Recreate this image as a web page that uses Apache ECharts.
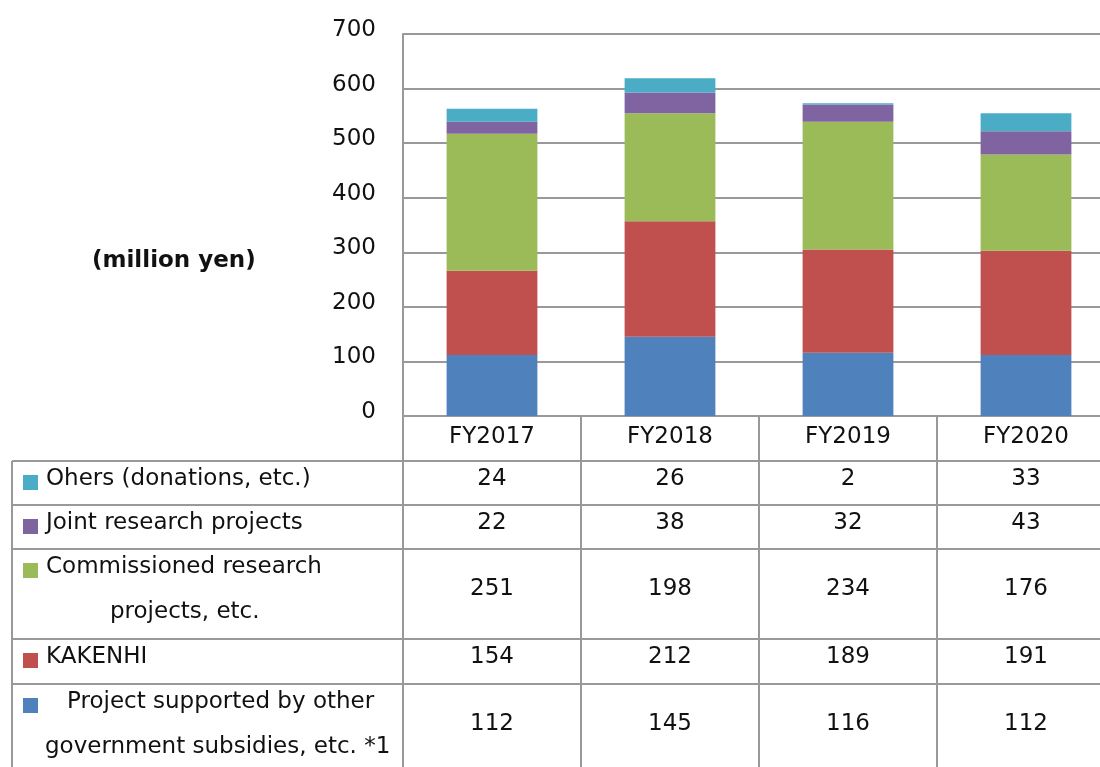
<!DOCTYPE html>
<html>
<head>
<meta charset="utf-8">
<script src="https://cdn.jsdelivr.net/npm/echarts@6/dist/echarts.min.js"></script>
<style>
  html, body { margin: 0; padding: 0; background: #fff; }
  #chart { width: 1100px; height: 767px; }
</style>
</head>
<body>
<div id="chart"></div>
<script>
// Research funding by source, in million yen
const categories = ['FY2017', 'FY2018', 'FY2019', 'FY2020'];
const subsidies = [112, 145, 116, 112];
const kakenhi = [154, 212, 189, 191];
const commissioned = [251, 198, 234, 176];
const joint = [22, 38, 32, 43];
const others = [24, 26, 2, 33];

const yMin = 0;
const yMax = 700;
const yStep = 100;

// Table rows, top to bottom (label lines per row)
const tableRows = [
  { lines: ['Ohers (donations, etc.)'], values: others },
  { lines: ['Joint research projects'], values: joint },
  { lines: ['Commissioned research', 'projects, etc.'], values: commissioned },
  { lines: ['KAKENHI'], values: kakenhi },
  { lines: ['Project supported by other', 'government subsidies, etc. *1'], values: subsidies }
];

// ---- styling / layout ----
const FONT = 'DejaVu Sans';
const FS = 23;
const TEXT = '#111';
const LINE = '#999';
const COLORS = {
  subsidies: '#4F81BD',
  kakenhi: '#C0504D',
  commissioned: '#9BBB59',
  joint: '#8064A2',
  others: '#4BACC6'
};
const rowColors = [COLORS.others, COLORS.joint, COLORS.commissioned, COLORS.kakenhi, COLORS.subsidies];
// the last column runs a little past the right edge of the page
const GRID = { left: 403, top: 34, width: 712, height: 382, outerBoundsMode: 'none' };
const TABLE_LEFT = 12;
const ROW_TOPS = [461, 505, 549, 639, 684];
const TABLE_BOTTOM = 767;
const LINE_GAP = 45;
const FIRST_LINE = 18;
const LINE_X = [[46], [46], [46, 110], [46], [67, 45]];

const chart = echarts.init(document.getElementById('chart'), null, { renderer: 'canvas' });

function barSeries(name, data, color) {
  return {
    name, type: 'bar', stack: 'total', data,
    barWidth: '51%',
    itemStyle: { color },
    emphasis: { disabled: true }
  };
}

chart.setOption({
  animation: false,
  backgroundColor: '#fff',
  textStyle: { fontFamily: FONT },
  grid: GRID,
  xAxis: {
    type: 'category',
    data: categories,
    axisLine: { show: true, lineStyle: { color: LINE, width: 2 } },
    axisTick: { show: false },
    axisLabel: { margin: 10, fontSize: FS, color: TEXT, fontFamily: FONT }
  },
  yAxis: {
    type: 'value',
    min: yMin, max: yMax, interval: yStep,
    axisLine: { show: true, lineStyle: { color: LINE, width: 2 } },
    axisTick: { show: false },
    axisLabel: { margin: 27, fontSize: FS, color: TEXT, fontFamily: FONT, verticalAlign: 'bottom', lineHeight: 8 },
    splitLine: { show: true, lineStyle: { color: LINE, width: 2 } }
  },
  series: [
    barSeries(tableRows[4].lines.join(' '), subsidies, COLORS.subsidies),
    barSeries(tableRows[3].lines.join(' '), kakenhi, COLORS.kakenhi),
    barSeries(tableRows[2].lines.join(' '), commissioned, COLORS.commissioned),
    barSeries(tableRows[1].lines.join(' '), joint, COLORS.joint),
    barSeries(tableRows[0].lines.join(' '), others, COLORS.others)
  ]
});

// Data table under the plot, aligned to the category axis
function buildTable() {
  const g = [];
  const right = 1100;
  const x0 = chart.convertToPixel({ xAxisIndex: 0 }, 0);
  const x1 = chart.convertToPixel({ xAxisIndex: 0 }, 1);
  const step = x1 - x0;
  const axisBottom = GRID.top + GRID.height;
  const lineStyle = { stroke: LINE, lineWidth: 2 };

  // vertical lines: left border, label column edge, column separators
  g.push({ type: 'line', shape: { x1: TABLE_LEFT, y1: ROW_TOPS[0], x2: TABLE_LEFT, y2: TABLE_BOTTOM }, style: lineStyle, silent: true });
  g.push({ type: 'line', shape: { x1: GRID.left, y1: axisBottom, x2: GRID.left, y2: TABLE_BOTTOM }, style: lineStyle, silent: true });
  for (let i = 1; i < categories.length; i++) {
    const x = chart.convertToPixel({ xAxisIndex: 0 }, i) - step / 2;
    g.push({ type: 'line', shape: { x1: x, y1: axisBottom, x2: x, y2: TABLE_BOTTOM }, style: lineStyle, silent: true });
  }
  // horizontal row lines
  ROW_TOPS.forEach(y => {
    g.push({ type: 'line', shape: { x1: TABLE_LEFT, y1: y, x2: right, y2: y }, style: lineStyle, silent: true });
  });

  tableRows.forEach((row, r) => {
    const top = ROW_TOPS[r];
    const n = row.lines.length;
    const firstY = top + FIRST_LINE;
    // legend key
    g.push({
      type: 'rect', silent: true,
      shape: { x: 23, y: firstY - 4, width: 15, height: 15 },
      style: { fill: rowColors[r] }
    });
    row.lines.forEach((t, i) => {
      g.push({
        type: 'text', silent: true,
        x: LINE_X[r][i], y: firstY + LINE_GAP * i,
        style: { text: t, font: FS + 'px "' + FONT + '"', fill: TEXT, textAlign: 'left', textVerticalAlign: 'middle' }
      });
    });
    const vy = firstY + LINE_GAP * (n - 1) / 2;
    row.values.forEach((v, c) => {
      g.push({
        type: 'text', silent: true,
        x: chart.convertToPixel({ xAxisIndex: 0 }, c), y: vy,
        style: { text: String(v), font: FS + 'px "' + FONT + '"', fill: TEXT, textAlign: 'center', textVerticalAlign: 'middle' }
      });
    });
  });

  // unit label
  g.push({
    type: 'text', silent: true,
    x: 92, y: 261,
    style: { text: '(million yen)', font: 'bold ' + FS + 'px "' + FONT + '"', fill: TEXT, textAlign: 'left', textVerticalAlign: 'middle' }
  });

  chart.setOption({ graphic: g });
}
buildTable();
</script>
</body>
</html>
